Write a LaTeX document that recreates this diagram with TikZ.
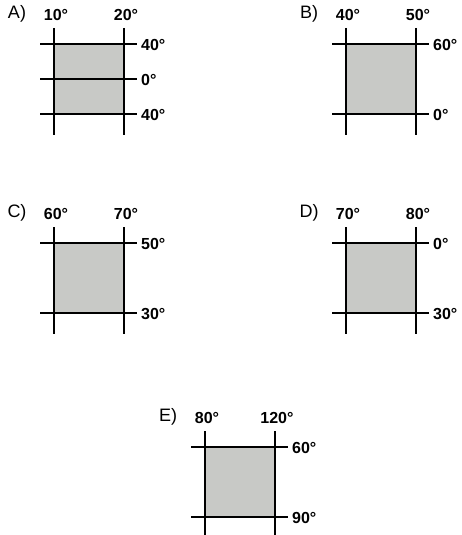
\documentclass[tikz,border=0pt]{standalone}
\usepackage{fontspec}
\setmainfont{Liberation Sans}
\usepackage{tikz}
\definecolor{boxgray}{RGB}{200,201,198}

\begin{document}
\begin{tikzpicture}[x=1pt,y=-1pt,
  gridline/.style={black,line width=2.8pt},
  degree/.style={font=\bfseries\fontsize{16}{16}\selectfont,inner sep=0pt},
  letter/.style={font=\fontsize{18}{18}\selectfont,inner sep=0pt}]
\useasboundingbox (0,0) rectangle (461,535);
% one square per answer, corner at its upper left:
\foreach \name/\ox/\oy/\tag/\wlon/\elon/\nlat/\slat in
  {pa/54/44/A/10/20/40/40, pb/346/44/B/40/50/60/0,
   pc/54/243/C/60/70/50/30, pd/346/243/D/70/80/0/30,
   pe/205/447/E/80/120/60/90} {
  \path[fill=boxgray] (\ox,\oy) rectangle ++(70,70);
  % meridians:
  \draw[gridline] (\ox,\oy-16) -- ++(0,107);
  \draw[gridline] (\ox+70,\oy-16) -- ++(0,107);
  % parallels:
  \draw[gridline] (\ox-14,\oy) -- ++(97,0);
  \draw[gridline] (\ox-14,\oy+70) -- ++(97,0);
  \node[letter] (\name-tag) at (\ox-37,\oy-30) {\tag)};
  \node[degree] (\name-w) at (\ox+2,\oy-29) {\wlon°};
  \node[degree] (\name-e) at (\ox+72,\oy-29) {\elon°};
  \node[degree,anchor=west] (\name-n) at (\ox+87,\oy+1) {\nlat°};
  \node[degree,anchor=west] (\name-s) at (\ox+87,\oy+71) {\slat°};
}
% equator in A:
\draw[gridline] (40,79) -- (137,79);
\node[degree,anchor=west] (pa-eq) at (141,80) {0°};
\end{tikzpicture}
\end{document}
